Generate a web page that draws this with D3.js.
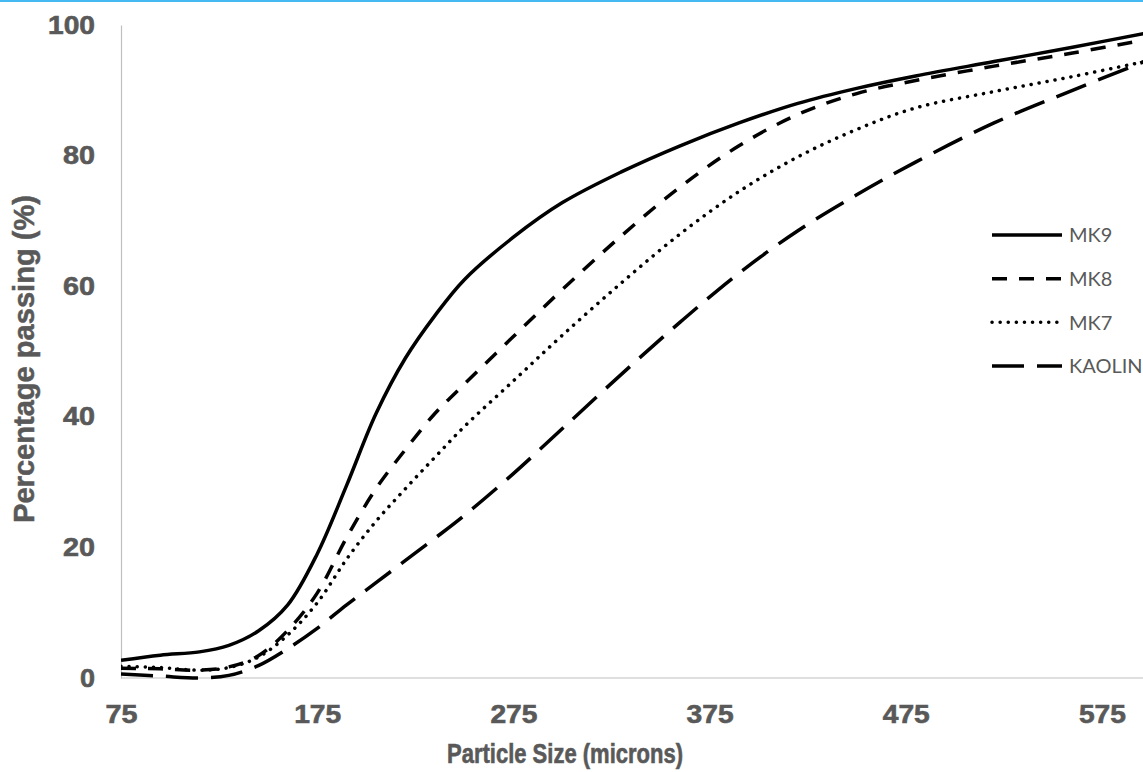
<!DOCTYPE html>
<html>
<head>
<meta charset="utf-8">
<script src="https://cdn.jsdelivr.net/npm/d3@7/dist/d3.min.js"></script>
<style>
  html, body { margin: 0; padding: 0; background: #ffffff; }
  svg { display: block; }
</style>
</head>
<body>
<script>
// ---- data ----
const sizes  = [75, 95, 115, 130, 145, 160, 175, 190, 205, 220, 235, 250, 275, 300, 330, 360, 390, 420, 450, 480, 520, 560, 600];
const mk9    = [2.7, 3.5, 4.0, 5.0, 7.2, 11.2, 19, 29.5, 40.5, 49, 55.5, 61, 67.5, 72.8, 77.5, 81.5, 85, 88, 90.3, 92.2, 94.4, 96.6, 98.9];
const mk8    = [1.5, 1.4, 1.2, 1.7, 3.4, 7.3, 13, 21.5, 29, 35, 40.5, 45, 52.3, 59.5, 67.7, 75.2, 81.5, 86.3, 89.5, 91.5, 93.7, 95.7, 97.9];
const mk7    = [1.8, 1.6, 1.2, 1.6, 3.2, 6.6, 11.5, 18.2, 24, 29, 33.8, 38.5, 45.5, 52.5, 60.5, 68, 74.5, 79.8, 84, 87.3, 89.8, 92.1, 94.6];
const kaolin = [0.6, 0.3, 0.0, 0.4, 1.9, 4.5, 7.6, 11.2, 14.6, 18, 21.4, 24.9, 31.3, 38.2, 46.5, 54.5, 62, 68.5, 74, 79, 85, 90, 94.8];
const seriesNames = ["MK9", "MK8", "MK7", "KAOLIN"];
const xTicks = [75, 175, 275, 375, 475, 575];
const yTicks = [0, 20, 40, 60, 80, 100];

const W = 1143, H = 772;
const svg = d3.select("body").append("svg").attr("width", W).attr("height", H);

// top accent line
svg.append("rect").attr("x", 0).attr("y", 0).attr("width", W).attr("height", 2).attr("fill", "#45b9f2");

const x = d3.scaleLinear().domain([75, 600]).range([121, 1151]);
const y = d3.scaleLinear().domain([0, 100]).range([678, 25]);

const tickFont = "'Liberation Sans', Arial, sans-serif";
const gray = "#595959";

// axes
const xAxis = svg.append("g").attr("transform", "translate(0,678)")
  .call(d3.axisBottom(x).tickValues(xTicks).tickSize(0).tickPadding(27).tickFormat(d3.format("d")));
const yAxis = svg.append("g").attr("transform", "translate(121,0)")
  .call(d3.axisLeft(y).tickValues(yTicks).tickSize(0).tickPadding(26).tickFormat(d3.format("d")));

[xAxis, yAxis].forEach(g => {
  g.select(".domain").attr("stroke", "#bfbfbf").attr("stroke-width", 1.2);
  g.selectAll("text")
    .attr("font-family", tickFont).attr("font-weight", "bold").attr("font-size", 25)
    .attr("fill", gray).attr("stroke", gray).attr("stroke-width", 0.6)
    .attr("textLength", d => { const n = String(d).length; return n === 1 ? 15 : n === 2 ? 32 : 47; })
    .attr("lengthAdjust", "spacingAndGlyphs");
});
xAxis.select(".domain").attr("d", "M121,0H1143");

// axis titles
svg.append("text")
  .attr("x", 565).attr("y", 763).attr("text-anchor", "middle")
  .attr("font-family", tickFont).attr("font-weight", "bold").attr("font-size", 27)
  .attr("fill", gray).attr("stroke", gray).attr("stroke-width", 0.6)
  .attr("textLength", 236).attr("lengthAdjust", "spacingAndGlyphs")
  .text("Particle Size (microns)");

svg.append("text")
  .attr("transform", "translate(34,359) rotate(-90)")
  .attr("text-anchor", "middle")
  .attr("font-family", tickFont).attr("font-weight", "bold").attr("font-size", 29)
  .attr("fill", gray).attr("stroke", gray).attr("stroke-width", 0.5)
  .attr("textLength", 328).attr("lengthAdjust", "spacingAndGlyphs")
  .text("Percentage passing (%)");

// series
const styles = {
  "MK9":    { dash: null,      cap: "butt" },
  "MK8":    { dash: "15,12",   cap: "butt" },
  "MK7":    { dash: "0.1,8",   cap: "round" },
  "KAOLIN": { dash: "32,13",   cap: "butt" }
};
const allValues = [mk9, mk8, mk7, kaolin];
const line = d3.line().x(d => x(d[0])).y(d => y(d[1])).curve(d3.curveCatmullRom.alpha(0.5));

svg.append("defs").append("clipPath").attr("id", "plotclip")
  .append("rect").attr("x", 121).attr("y", 0).attr("width", W - 121).attr("height", 700);

const plot = svg.append("g").attr("clip-path", "url(#plotclip)");
seriesNames.forEach((name, i) => {
  const pts = sizes.map((s, j) => [s, allValues[i][j]]);
  plot.append("path").datum(pts)
    .attr("d", line)
    .attr("fill", "none").attr("stroke", "#000").attr("stroke-width", 3.5)
    .attr("stroke-dasharray", styles[name].dash)
    .attr("stroke-linecap", styles[name].cap);
});

// legend
const legendY = d3.scalePoint().domain(seriesNames).range([235, 366]);
const leg = svg.append("g");
seriesNames.forEach(name => {
  const ly = legendY(name);
  leg.append("line").attr("x1", 992).attr("x2", 1062).attr("y1", ly).attr("y2", ly)
    .attr("stroke", "#000").attr("stroke-width", 3.5)
    .attr("stroke-dasharray", styles[name].dash)
    .attr("stroke-linecap", styles[name].cap);
  leg.append("text").attr("x", 1069).attr("y", ly).attr("dy", "0.36em")
    .attr("font-family", "Lato, 'Open Sans', sans-serif").attr("font-size", 20)
    .attr("fill", gray).text(name);
});
</script>
</body>
</html>
